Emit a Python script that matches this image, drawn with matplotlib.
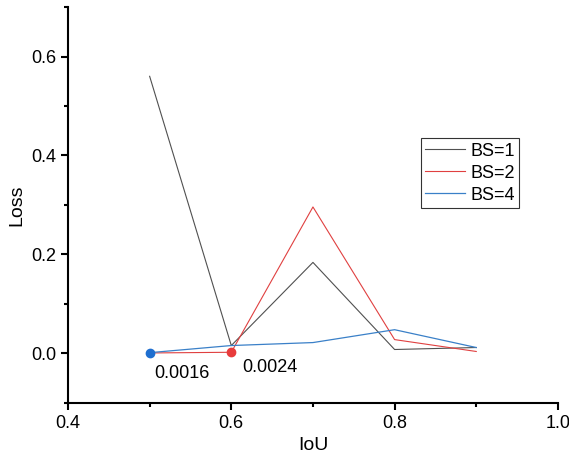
import matplotlib.pyplot as plt
from matplotlib.ticker import MultipleLocator

plt.rcParams['font.family'] = ['Liberation Sans', 'DejaVu Sans']

iou = [0.5, 0.6, 0.7, 0.8, 0.9]
loss_bs1 = [0.560, 0.016, 0.184, 0.008, 0.012]
loss_bs2 = [0.001, 0.0024, 0.296, 0.028, 0.004]
loss_bs4 = [0.0016, 0.016, 0.022, 0.048, 0.012]

best_x = [0.5, 0.6]
best_y = [0.0016, 0.0024]
best_labels = ['0.0016', '0.0024']

fig = plt.figure(figsize=(5.69, 4.68), dpi=100)
ax = fig.add_axes([0.1195, 0.139, 0.861, 0.846])

ax.plot(iou, loss_bs1, color='#505050', lw=0.8, label='BS=1')
ax.plot(iou, loss_bs2, color='#e04040', lw=0.8, label='BS=2')
ax.plot(iou, loss_bs4, color='#3a80c8', lw=0.9, label='BS=4')

ax.plot(best_x[0], best_y[0], 'o', color='#1f6fd0', ms=6)
ax.plot(best_x[1], best_y[1], 'o', color='#e83c3c', ms=6)
ax.annotate(best_labels[0], (best_x[0], best_y[0]), xytext=(3, -18),
            textcoords='offset points', fontsize=13)
ax.annotate(best_labels[1], (best_x[1], best_y[1]), xytext=(8, -14),
            textcoords='offset points', fontsize=13)

ax.set_xlim(0.4, 1.0)
ax.set_ylim(-0.1, 0.7)
ax.xaxis.set_major_locator(MultipleLocator(0.2))
ax.xaxis.set_minor_locator(MultipleLocator(0.1))
ax.yaxis.set_major_locator(MultipleLocator(0.2))
ax.yaxis.set_minor_locator(MultipleLocator(0.1))
ax.tick_params(which='major', length=5, width=1.5, labelsize=13)
ax.tick_params(which='minor', length=3, width=1.5)

for s in ['top', 'right']:
    ax.spines[s].set_visible(False)
for s in ['left', 'bottom']:
    ax.spines[s].set_linewidth(1.5)

ax.set_xlabel('IoU', fontsize=14)
ax.set_ylabel('Loss', fontsize=14)

leg = ax.legend(loc='upper left', bbox_to_anchor=(0.72, 0.669), fontsize=13,
                frameon=True, fancybox=False, edgecolor='black',
                handlelength=2.2, borderpad=0.25, labelspacing=0.28,
                handletextpad=0.3, borderaxespad=0, handleheight=0.7)
leg.get_frame().set_linewidth(0.8)

fig.savefig('out.png', dpi=100)
